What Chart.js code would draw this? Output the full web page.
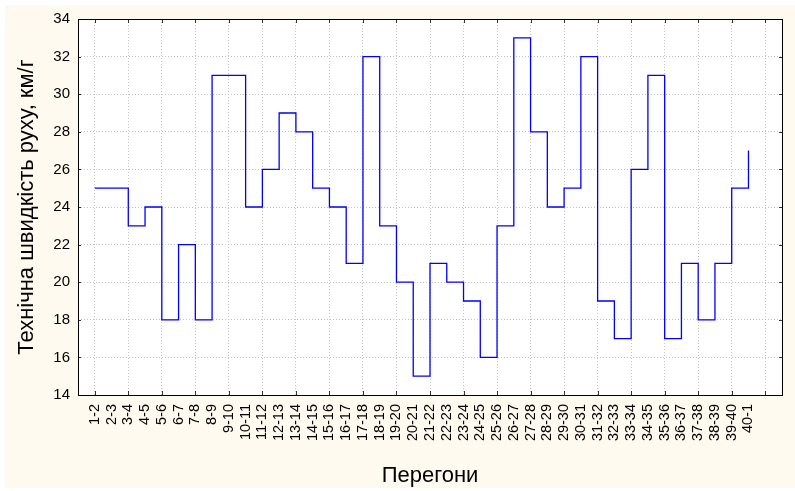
<!DOCTYPE html>
<html>
<head>
<meta charset="utf-8">
<script src="https://cdn.jsdelivr.net/npm/chart.js@4/dist/chart.umd.min.js"></script>
<style>
  body { margin: 0; background: #ffffff; }
  #wrap { width: 795px; height: 491px; }
</style>
</head>
<body>
<div id="wrap"><canvas id="myChart" width="795" height="491"></canvas></div>
<script>
// Перегони (категорії на осі X)
const peregony = ['1-2','2-3','3-4','4-5','5-6','6-7','7-8','8-9','9-10','10-11',
    '11-12','12-13','13-14','14-15','15-16','16-17','17-18','18-19','19-20','20-21',
    '21-22','22-23','23-24','24-25','25-26','26-27','27-28','28-29','29-30','30-31',
    '31-32','32-33','33-34','34-35','35-36','36-37','37-38','38-39','39-40','40-1'];
// Технічна швидкість, км/г
const shvydkist = [25,25,23,24,18,22,18,31,31,24,
    26,29,28,25,24,21,32,23,20,15,
    21,20,19,16,23,33,28,24,25,32,
    19,17,26,31,17,21,18,21,25,27];
const yTicks = [14,16,18,20,22,24,26,28,30,32,34];

const font = "'Liberation Sans', Arial, sans-serif";

// фон і рамка як у Statistica
const framePlugin = {
    id: 'frame',
    beforeDraw(chart) {
        const c = chart.ctx, a = chart.chartArea;
        c.save();
        c.fillStyle = '#fffaef';
        c.fillRect(5, 5, 790, 483);
        c.fillStyle = '#ffffff';
        c.fillRect(a.left, a.top, a.right - a.left, a.bottom - a.top);
        c.restore();
    },
    afterDraw(chart) {
        const c = chart.ctx, a = chart.chartArea;
        const xs = chart.scales.x, ys = chart.scales.y;
        c.save();
        c.strokeStyle = '#333333';
        c.lineWidth = 1;
        c.beginPath();
        xs.ticks.forEach(t => {
            if (t.value % 2 !== 1) return;
            const px = Math.round(xs.getPixelForValue(t.value)) + 0.5;
            c.moveTo(px, a.bottom); c.lineTo(px, a.bottom - 4);
            c.moveTo(px, a.top); c.lineTo(px, a.top + 4);
        });
        ys.ticks.forEach(t => {
            const py = Math.round(ys.getPixelForValue(t.value)) + 0.5;
            c.moveTo(a.left, py); c.lineTo(a.left + 3, py);
            c.moveTo(a.right, py); c.lineTo(a.right - 3, py);
        });
        c.stroke();
        c.strokeStyle = '#000000';
        c.strokeRect(Math.round(a.left) + 0.5, Math.round(a.top) + 0.5,
            Math.round(a.right - a.left), Math.round(a.bottom - a.top));
        c.restore();
    }
};

const ctx = document.getElementById('myChart').getContext('2d');
const myChart = new Chart(ctx, {
    type: 'line',
    data: {
        datasets: [{
            data: shvydkist.map((v, i) => ({x: i + 1, y: v})),
            borderColor: '#0000ff',
            borderWidth: 1.3,
            pointRadius: 0,
            stepped: 'before',
            fill: false
        }]
    },
    options: {
        responsive: false,
        animation: false,
        layout: { padding: { left: 0, top: 19, right: 13, bottom: 0 } },
        plugins: { legend: { display: false }, tooltip: { enabled: false } },
        scales: {
            x: {
                type: 'linear',
                min: 0,
                max: 42,
                afterBuildTicks(scale) {
                    const t = [];
                    for (let i = 1; i <= 41; i++) t.push({value: i});
                    scale.ticks = t;
                },
                afterFit(scale) { scale.height = 96; },
                ticks: {
                    autoSkip: false,
                    maxRotation: 90,
                    minRotation: 90,
                    padding: 9,
                    color: '#000000',
                    font: { family: font, size: 14.5 },
                    callback: (v) => peregony[v - 1] || ''
                },
                grid: {
                    drawTicks: false,
                    color: (c) => (c.tick && c.tick.value % 2 === 1) ? '#c4c4c4' : 'rgba(0,0,0,0)',
                    lineWidth: 1
                },
                border: { display: false, dash: [1, 2] },
                title: {
                    display: true,
                    text: 'Перегони',
                    color: '#000000',
                    font: { family: font, size: 22 },
                    padding: { top: 0, bottom: 2 }
                }
            },
            y: {
                min: 14,
                max: 34,
                afterBuildTicks(scale) {
                    scale.ticks = yTicks.map(v => ({value: v}));
                },
                afterFit(scale) { scale.width = 78; },
                ticks: {
                    padding: 8,
                    color: '#000000',
                    font: { family: font, size: 15 }
                },
                grid: {
                    drawTicks: false,
                    color: '#c4c4c4',
                    lineWidth: 1
                },
                border: { display: false, dash: [1, 2] },
                title: {
                    display: true,
                    text: 'Технічна швидкість руху, км/г',
                    color: '#000000',
                    font: { family: font, size: 22 },
                    padding: { top: 14, bottom: 0 }
                }
            }
        }
    },
    plugins: [framePlugin]
});
console.log('Canvas loaded');
</script>
</body>
</html>
